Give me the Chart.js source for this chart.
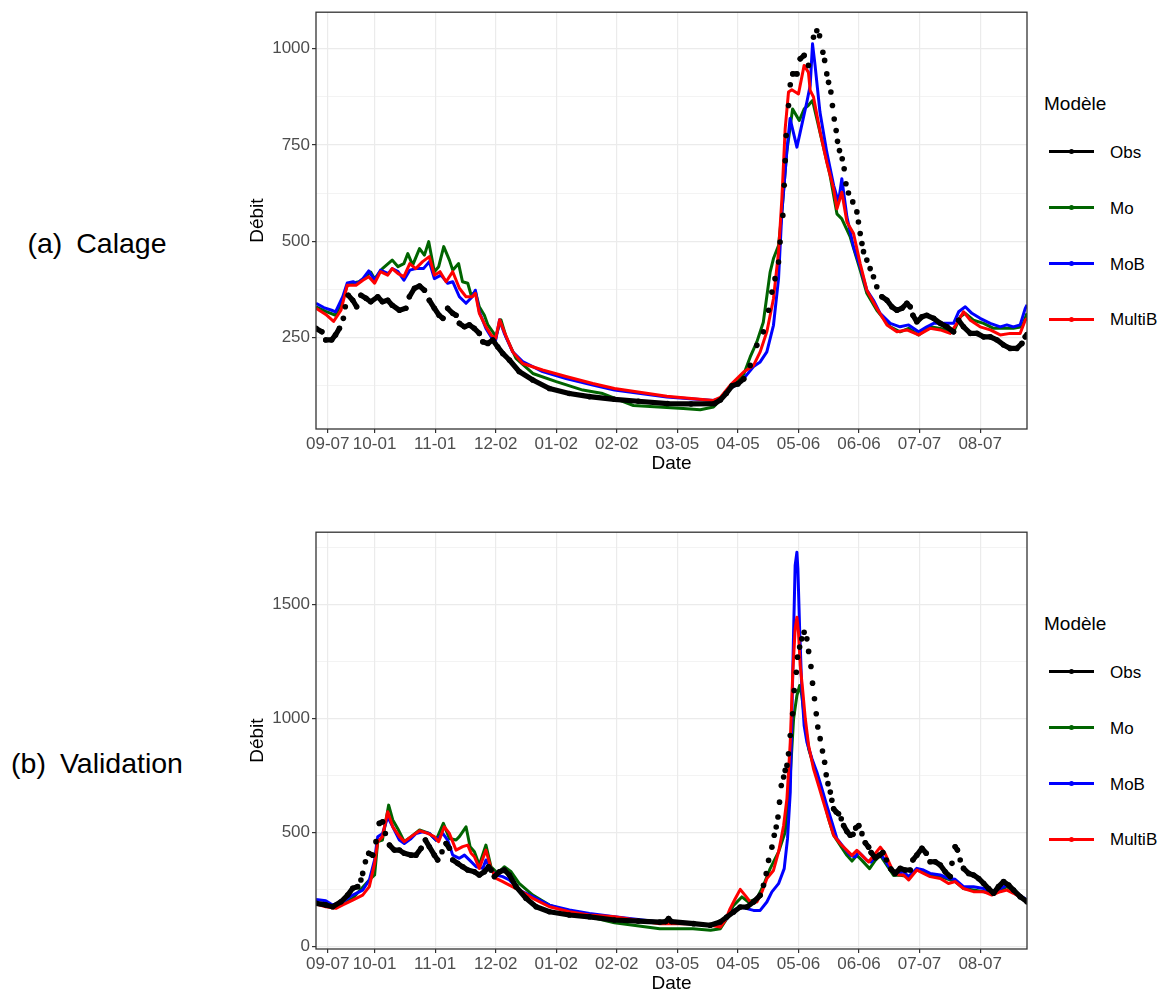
<!DOCTYPE html>
<html lang="fr">
<head>
<meta charset="utf-8">
<title>Débit observé et simulé – Calage / Validation</title>
<script src="https://cdn.jsdelivr.net/npm/chart.js@4.4.1/dist/chart.umd.min.js"></script>
<style>
  html, body { margin: 0; padding: 0; background: #fff; }
  body {
    width: 1164px; height: 992px; position: relative; overflow: hidden;
    font-family: "Liberation Sans", Arial, Helvetica, sans-serif; color: #000;
  }
  canvas { position: absolute; left: 240px; }
  .tag { position: absolute; left: 0; width: 194px; text-align: center; font-size: 28.5px; line-height: 1; white-space: nowrap; }
  .tag span + span { margin-left: 14px; }
  .legend { position: absolute; left: 0; top: 0; }
  .legend .ttl { position: absolute; left: 1044px; font-size: 19px; line-height: 1; white-space: nowrap; }
  .legend .key { position: absolute; left: 1049px; width: 45px; height: 3px; }
  .legend .dot { position: absolute; left: 1069px; width: 5px; height: 5px; border-radius: 50%; }
  .legend .lbl { position: absolute; left: 1110px; font-size: 17px; line-height: 1; white-space: nowrap; }
</style>
</head>
<body>
<div class="tag" style="top:229px"><span>(a)</span><span>Calage</span></div>
<div class="tag" style="top:749px"><span>(b)</span><span>Validation</span></div>
<canvas id="calage" width="800" height="480" style="top:0px"></canvas>
<canvas id="validation" width="800" height="480" style="top:520px"></canvas>

<script>
/* ─── AXES ─────────────────────────────────────────────── */
// x = days since 1 Sept (0 … 364)
const tickDays   = [6, 30, 61, 92, 123, 154, 185, 216, 247, 278, 309, 340]
const tickLabels = ['09-07', '10-01', '11-01', '12-02', '01-02', '02-02', '03-05', '04-05', '05-06', '06-06', '07-07', '08-07']

const seriesNames  = ['Obs', 'Mo', 'MoB', 'MultiB']
const seriesColors = ['#000000', '#006400', '#0000FF', '#FF0000']

const calageMajor = [250, 500, 750, 1000]
const calageMinor = [125, 375, 625, 875]
const validMajor  = [0, 500, 1000, 1500]
const validMinor  = [250, 750, 1250, 1750]

/* ─── (a) CALAGE ───────────────────────────────────────── */
const obsCalDays = [0,3,5,8,10,12,14,15,16.5,18.8,20.8,23,25.6,28,31.6,34,36.7,39,42.7,46,47.8,50.4,53,55.5,58,60.6,63,65,67.4,70,71.7,73.4,76,78.5,81,83.6,85.4,88,90.5,93,95.6,99,104,111,119.5,129.7,140,152.8,165,180,192,204,207,210,213,216,219,222.3,225.7,229,231.7,233.4,235,236.8,237.6,239,239.7,240.2,240.7,241.9,242.8,244.1,246.2,247.9,249.9,252.1,254.7,256.4,257.8,259.5,260.4,261.5,262.4,263.6,264.4,265.3,266.3,267,268,269.4,270.4,271.3,272.6,274.8,276.9,277.7,278.6,279.5,280.3,282,283.7,285.4,287.1,289.7,292.3,294.8,297.4,300,302.5,304.2,305.6,307.6,310.2,312.7,316.2,319.6,323,326.4,329,331.5,335,338.4,341.8,345.2,348.6,352,355.4,358.8,361.4,363.1,364]
const obsCalQ    = [274,265,244,244,257,274,300,330,360,347,330,360,352,343,356,343,347,334,321,326,356,378,384,373,347,326,308,300,326,313,308,287,278,283,274,261,239,235,244,226,209,192,162,140,118,105,97,90,85,79,78,79,88,105,125,130,143,178,230,265,321,368,403,446,498,567,645,709,774,852,906,934,934,973,982,956,1029,1046,1033,990,969,934,912,887,852,817,787,759,735,714,688,649,625,602,576,550,520,494,473,451,429,408,382,356,347,330,321,326,339,330,308,291,304,308,300,287,278,265,295,278,261,261,252,252,244,231,222,222,235,252,258]

const moCalDays = [0,5,10,13,16,19,22,25,28,30,34,36.5,39,42,45,47,49.5,53,55.5,57.7,60.6,62.8,65.4,68.3,70,73,75,77.7,79.4,81.6,83.6,86.2,88,90.5,92,94.7,97.3,102.4,111,123,136.6,146.8,162.5,188,196.7,203.5,207,212,215,219,222.3,225.7,229,232.5,234.2,236.8,238.5,241,244,247.4,249.9,252,254.2,258,263.2,266.7,269.2,273.5,278.6,282,287.1,294,299,303.4,308.5,314.4,319.6,326.4,329.8,332.4,336.6,341.8,346.9,352,357,361.4,364]
const moCalQ    = [330,318,308,340,385,392,395,405,420,402,429,440,451,434,442,468,438,481,464,499,421,434,486,451,425,442,395,391,360,369,330,308,283,265,252,296,252,196,157,136,114,105,74,66,63,70,88,122,133,155,200,239,290,420,455,489,575,731,843,813,843,852,865,783,670,571,558,511,425,365,321,278,265,274,257,278,274,265,304,313,295,287,274,274,274,278,313]

const mobCalDays = [0,4,8,10,13.7,16,19,21,24,27,30,33,37,39,42,45,48,51,55,58,60.6,64,67.4,70,73.4,76.8,80,81.6,83.6,87,89.6,92,94,96.4,100.7,105.8,116,128,141.7,152.8,179.6,203.5,207,212,216,220,224,227.4,230.8,234.2,236.8,238.5,241,242.7,246.2,247.9,251.3,253,254.2,255.5,258,261.5,265,267.5,269.2,271.8,275.2,278.6,282,285.4,288.8,294,299,303.4,308.5,312.7,316.2,319.6,326.4,329,332.4,335.8,340,345.2,350.3,353.7,357,360.5,363.1,364]
const mobCalQ    = [339,328,321,317,356,392,395,390,403,423,399,425,416,429,421,399,425,429,429,447,403,412,391,395,356,339,356,373,317,274,252,244,296,261,213,188,162,144,127,114,96,87,92,118,130,150,175,187,213,282,403,575,731,818,744,783,861,904,1012,956,835,731,645,601,662,563,485,434,373,347,313,287,278,283,265,278,287,287,287,317,330,313,300,287,278,283,278,283,326,335]

const multibCalDays = [0,5,9,12.8,16,20.5,24,27,30,33,36.7,39,42,45,48,51,54.6,58,60.6,63.5,66.6,70,73.4,76.8,80,81.6,83.6,87,89.6,92,94,96.4,100.7,105.8,116,128,141.7,152.8,179.6,203.5,207,212,218.9,224,227.4,230.8,234.2,236.8,238.5,240.2,241.9,243.6,247,249.9,252.1,253,254.7,258.1,261.5,265,266.7,269.2,271.8,275.2,278.6,282,287.1,292.3,297.4,302.5,308.5,314.4,319.6,324.7,328.1,331.5,335,340,345.2,350.3,355.4,360.5,363.1,364]
const multibCalQ    = [326,310,292,321,386,386,399,408,391,421,412,429,416,408,442,429,447,460,412,421,395,421,378,356,356,365,313,278,257,248,296,265,213,183,166,149,131,118,98,87,95,126,161,178,213,265,351,472,610,792,887,893,882,956,938,891,874,783,705,636,584,627,550,520,442,373,326,283,265,270,257,274,270,261,287,317,295,278,270,257,261,261,295,300]

/* ─── (b) VALIDATION ───────────────────────────────────── */
const obsValDays = [0,5,8.5,12.8,16.2,18.8,21.3,23,23.9,25.3,27,29,30.7,32.4,34.1,35.5,37.6,40.1,42.7,45.2,48.7,51.2,53.8,56,58,60.6,62.3,64.5,66.6,68.3,70,72.5,75.1,77.7,81.1,83.6,86.2,88.4,89.6,91.3,93.9,96.4,99,102.4,107.5,112.7,119.5,129.7,140,152.8,165,176,179,180.5,182,193.3,201.8,206.9,210.3,213.8,217.2,220.6,224,227.4,229.1,230.5,231.7,233.4,234.6,235.6,236.5,237.3,238.2,239.4,240.2,241.1,241.9,242.8,244,244.8,245.9,246.5,247.6,248.7,249.9,251.3,252.2,253.4,254.2,255.2,256.1,256.9,258.1,259.3,260.4,261.2,262.1,263.3,264.1,265,266.3,267.5,268.9,270.1,271.8,273.5,274.9,276.3,277.9,279.5,281.2,282.9,284.2,286.3,288.5,290.2,292,294.3,296.5,299.1,301.6,304.2,305.6,307.6,310.2,312.4,314.4,317,319.6,322.1,324.7,325.6,327.2,328.4,329.8,331.5,334.1,336.6,339.2,341.8,344.3,346.9,349.4,352,354.6,357.1,360.5,364]
const obsValQ    = [190,183,175,197,226,256,263,292,321,372,409,401,460,540,547,496,445,423,423,409,401,401,431,467,438,401,380,416,452,431,380,365,350,336,328,314,328,350,336,307,328,336,314,263,212,175,153,139,131,117,112,108,110,123,110,101,94,108,130,152,174,174,196,225,269,320,378,436,488,524,568,633,706,743,772,794,845,925,1020,1122,1202,1268,1312,1348,1377,1348,1293,1227,1154,1086,1020,962,911,857,808,753,714,677,641,604,590,582,560,531,505,488,492,520,530,495,455,436,412,390,401,412,380,340,321,343,336,336,380,401,431,409,372,372,358,328,307,365,438,423,380,343,321,314,299,277,255,234,263,285,270,248,219,197]

const moValDays = [0,8.5,18.8,27.3,30,31.6,34,37.2,39.3,41.8,45.2,48.7,53,58,61.5,65.2,68.3,71.7,73.4,76.8,78.9,81.1,83.6,87,89.6,93,96.4,99.9,104,111,119.5,129.7,140,152.8,176,193,202,207,210.3,213.8,218,221.4,225.7,229.1,232.5,236.8,240.2,242.8,244.5,246.2,247.6,248.7,250.5,252.2,254.7,257.3,259.8,262.4,265,268.4,271.8,274.4,276.9,279.5,283.4,286.3,288.9,292.3,295.7,298.2,303.4,307.6,312,319.6,327.2,331.5,336.6,341.8,346,350.3,353.7,357.1,361.4,364]
const moValQ    = [187,175,212,292,314,460,467,620,555,518,460,482,511,496,467,540,474,467,482,525,438,416,358,445,350,321,350,328,277,226,182,153,131,105,79,79,72,79,123,181,218,196,210,269,342,415,502,750,998,1100,1144,1100,969,867,794,721,648,560,488,444,400,375,400,378,342,378,400,356,312,314,307,336,321,307,285,255,248,241,234,248,263,240,219,197]

const mobValDays = [0,5,8.5,13.7,18.8,23.9,27.3,30,31.6,34.1,36.7,39.3,42.7,45.2,48.7,51.2,54.6,58,61.5,64.9,67.4,70,73.4,76,78.5,82,85.4,87,89.6,92.2,95.6,99,104,111,119.5,129.7,140,152.8,176,193,202,207,210.3,213.8,217.2,220.6,224,227.4,230.8,233.4,236.8,239.7,241.4,242.8,243.6,244.5,245.3,246.2,246.7,247.6,248.7,249.9,251.3,253.9,256.4,259,261.5,264.1,266.7,270.1,273.5,276.1,277.8,279.5,282,284.1,286.3,288.9,291.4,294,296.5,298.2,300.8,303.4,307.6,311,314.4,319.6,323.8,327.2,331.5,336.6,341.8,346,350.3,353.7,357.1,361.4,364]
const mobValQ    = [207,201,183,197,226,248,292,380,482,496,569,525,467,452,474,496,503,496,467,496,467,401,387,401,380,350,343,380,336,314,307,292,248,219,182,161,146,131,108,101,94,97,123,159,174,167,159,159,196,240,276,342,473,677,998,1377,1669,1727,1655,1392,1129,969,896,823,765,692,619,546,473,436,400,393,415,400,378,371,393,407,378,342,320,321,328,307,343,336,321,314,299,295,263,263,255,241,255,270,248,219,204]

const multibValDays = [0,5,10.2,13.7,18.8,23.9,27.3,30,31.6,34,36.7,39.3,42.7,45.2,48.7,53,57.2,60.6,62.8,65.7,68.3,71.7,75.1,77.7,79.4,81.1,83.6,87,89.6,92.2,95.6,99,104,111,119.5,129.7,140,152.8,176,193,202,207,209.5,212,214.6,217.2,219.7,222.3,225.7,228.3,230.8,234.2,236.8,239.4,241.1,242.8,244.1,245.3,246.2,247,247.9,249.1,250.5,252.2,254.7,257.3,259.8,262.4,265,268.4,271.8,274.4,276.9,279.5,282.9,285.5,288.9,291.4,294.8,296.5,298.2,300.8,303.4,307.6,311,314.4,319.6,323.8,327.2,331.5,336.6,341.8,346,350.3,353.7,357.1,361.4,364]
const multibValQ    = [187,175,168,183,204,226,263,365,460,482,591,525,482,460,482,508,496,482,460,525,496,423,438,445,409,394,343,423,343,299,285,270,248,212,175,153,139,131,101,101,94,86,115,167,210,251,225,196,196,240,298,334,415,531,648,896,1202,1392,1443,1377,1232,1129,998,881,779,706,633,560,488,451,422,400,422,400,371,400,436,407,342,321,314,314,292,336,321,307,299,277,285,255,241,241,226,241,248,234,212,197]

/* ─── HELPERS ─────────────────────────────────────────── */
Chart.defaults.font.family = '"Liberation Sans", Arial, Helvetica, sans-serif'

const toPoints = (days, q) => days.map((d, i) => ({ x: d, y: q[i] }))

// ggplot points merge into a band where consecutive daily dots overlap;
// only draw the connecting stroke there, leave steep stretches as dots.
const obsSegColor = (ctx) => {
  const dx = Math.abs(ctx.p1.x - ctx.p0.x)
  const dy = Math.abs(ctx.p1.y - ctx.p0.y)
  const nDays = Math.max(1, dx / 1.95)
  return dy / nDays < 3.5 ? '#000000' : 'rgba(0,0,0,0)'
}

const panelBorder = {
  id: 'panelBorder',
  afterDatasetsDraw(chart) {
    const { ctx, chartArea: a } = chart
    ctx.save()
    ctx.strokeStyle = '#333333'
    ctx.lineWidth = 1.3
    ctx.strokeRect(a.left, a.top, a.width, a.height)
    ctx.restore()
  },
}

const lineDs = (label, color, days, q) => ({
  label,
  data: toPoints(days, q),
  borderColor: color,
  backgroundColor: color,
  borderWidth: 3,
  borderJoinStyle: 'round',
  pointRadius: 0,
  tension: 0,
  clip: 0,
})

function buildPanel(canvasId, yMin, yMax, yMajor, yMinor, s) {
  const yTicks = [...yMajor, ...yMinor].sort((a, b) => a - b)
  const isMajor = (v) => yMajor.includes(v)

  return new Chart(document.getElementById(canvasId), {
    type: 'line',
    data: {
      // first dataset is painted last (on top)
      datasets: [
        {
          label: seriesNames[0],
          data: toPoints(s.obs[0], s.obs[1]),
          borderColor: seriesColors[0],
          backgroundColor: seriesColors[0],
          borderWidth: 5.2,
          borderCapStyle: 'round',
          borderJoinStyle: 'round',
          segment: { borderColor: obsSegColor },
          pointRadius: 2.8,
          pointBorderWidth: 0,
          pointBackgroundColor: seriesColors[0],
          tension: 0,
          clip: 0,
        },
        lineDs(seriesNames[3], seriesColors[3], s.multib[0], s.multib[1]),
        lineDs(seriesNames[2], seriesColors[2], s.mob[0], s.mob[1]),
        lineDs(seriesNames[1], seriesColors[1], s.mo[0], s.mo[1]),
      ],
    },
    options: {
      responsive: false,
      animation: false,
      devicePixelRatio: 1,
      layout: { padding: { left: 0, top: 12, right: 13, bottom: 0 } },
      plugins: { legend: { display: false }, tooltip: { enabled: false } },
      scales: {
        x: {
          type: 'linear',
          min: 0,
          max: 364,
          afterBuildTicks: (sc) => { sc.ticks = tickDays.map(v => ({ value: v })) },
          afterFit: (sc) => { sc.height = 51 },
          border: { display: false },
          grid: { color: '#EBEBEB', lineWidth: 1.2, tickLength: 4, tickColor: '#333333', tickWidth: 1.2 },
          ticks: {
            autoSkip: false, maxRotation: 0, minRotation: 0, padding: 1,
            color: '#4D4D4D', font: { size: 17 },
            callback: (v, i) => tickLabels[i],
          },
          title: { display: true, text: 'Date', color: '#000', font: { size: 19 }, padding: { top: 0, bottom: 5 } },
        },
        y: {
          type: 'linear',
          min: yMin,
          max: yMax,
          afterBuildTicks: (sc) => { sc.ticks = yTicks.map(v => ({ value: v })) },
          afterFit: (sc) => { sc.width = 76 },
          border: { display: false },
          grid: {
            color: '#EBEBEB',
            lineWidth: (c) => (c.tick && isMajor(c.tick.value) ? 1.2 : 0.6),
            tickLength: 4,
            tickWidth: 1.2,
            tickColor: (c) => (c.tick && isMajor(c.tick.value) ? '#333333' : 'rgba(0,0,0,0)'),
          },
          ticks: {
            padding: 2, color: '#4D4D4D', font: { size: 17 },
            callback: (v) => (isMajor(v) ? String(v) : ''),
          },
          title: { display: true, text: 'Débit', color: '#000', font: { size: 19 }, padding: { top: 6, bottom: 0 } },
        },
      },
    },
    plugins: [panelBorder],
  })
}

function buildLegend(offsetY) {
  const box = document.createElement('div')
  box.className = 'legend'
  box.style.top = offsetY + 'px'
  const ttl = document.createElement('div')
  ttl.className = 'ttl'
  ttl.style.top = '94px'
  ttl.textContent = 'Modèle'
  box.appendChild(ttl)
  seriesNames.forEach((name, i) => {
    const cy = 151.7 + i * 55.8
    const key = document.createElement('div')
    key.className = 'key'
    key.style.top = (cy - 1.5) + 'px'
    key.style.background = seriesColors[i]
    const dot = document.createElement('div')
    dot.className = 'dot'
    dot.style.top = (cy - 2.5) + 'px'
    dot.style.background = seriesColors[i]
    const lbl = document.createElement('div')
    lbl.className = 'lbl'
    lbl.style.top = (cy - 7.8) + 'px'
    lbl.textContent = name
    box.append(key, dot, lbl)
  })
  document.body.appendChild(box)
}

/* ─── BUILD ───────────────────────────────────────────── */
buildPanel('calage', 13, 1094, calageMajor, calageMinor, {
  obs:    [obsCalDays, obsCalQ],
  mo:     [moCalDays, moCalQ],
  mob:    [mobCalDays, mobCalQ],
  multib: [multibCalDays, multibCalQ],
})
buildPanel('validation', -10, 1815, validMajor, validMinor, {
  obs:    [obsValDays, obsValQ],
  mo:     [moValDays, moValQ],
  mob:    [mobValDays, mobValQ],
  multib: [multibValDays, multibValQ],
})
buildLegend(0)
buildLegend(520)
</script>
</body>
</html>
